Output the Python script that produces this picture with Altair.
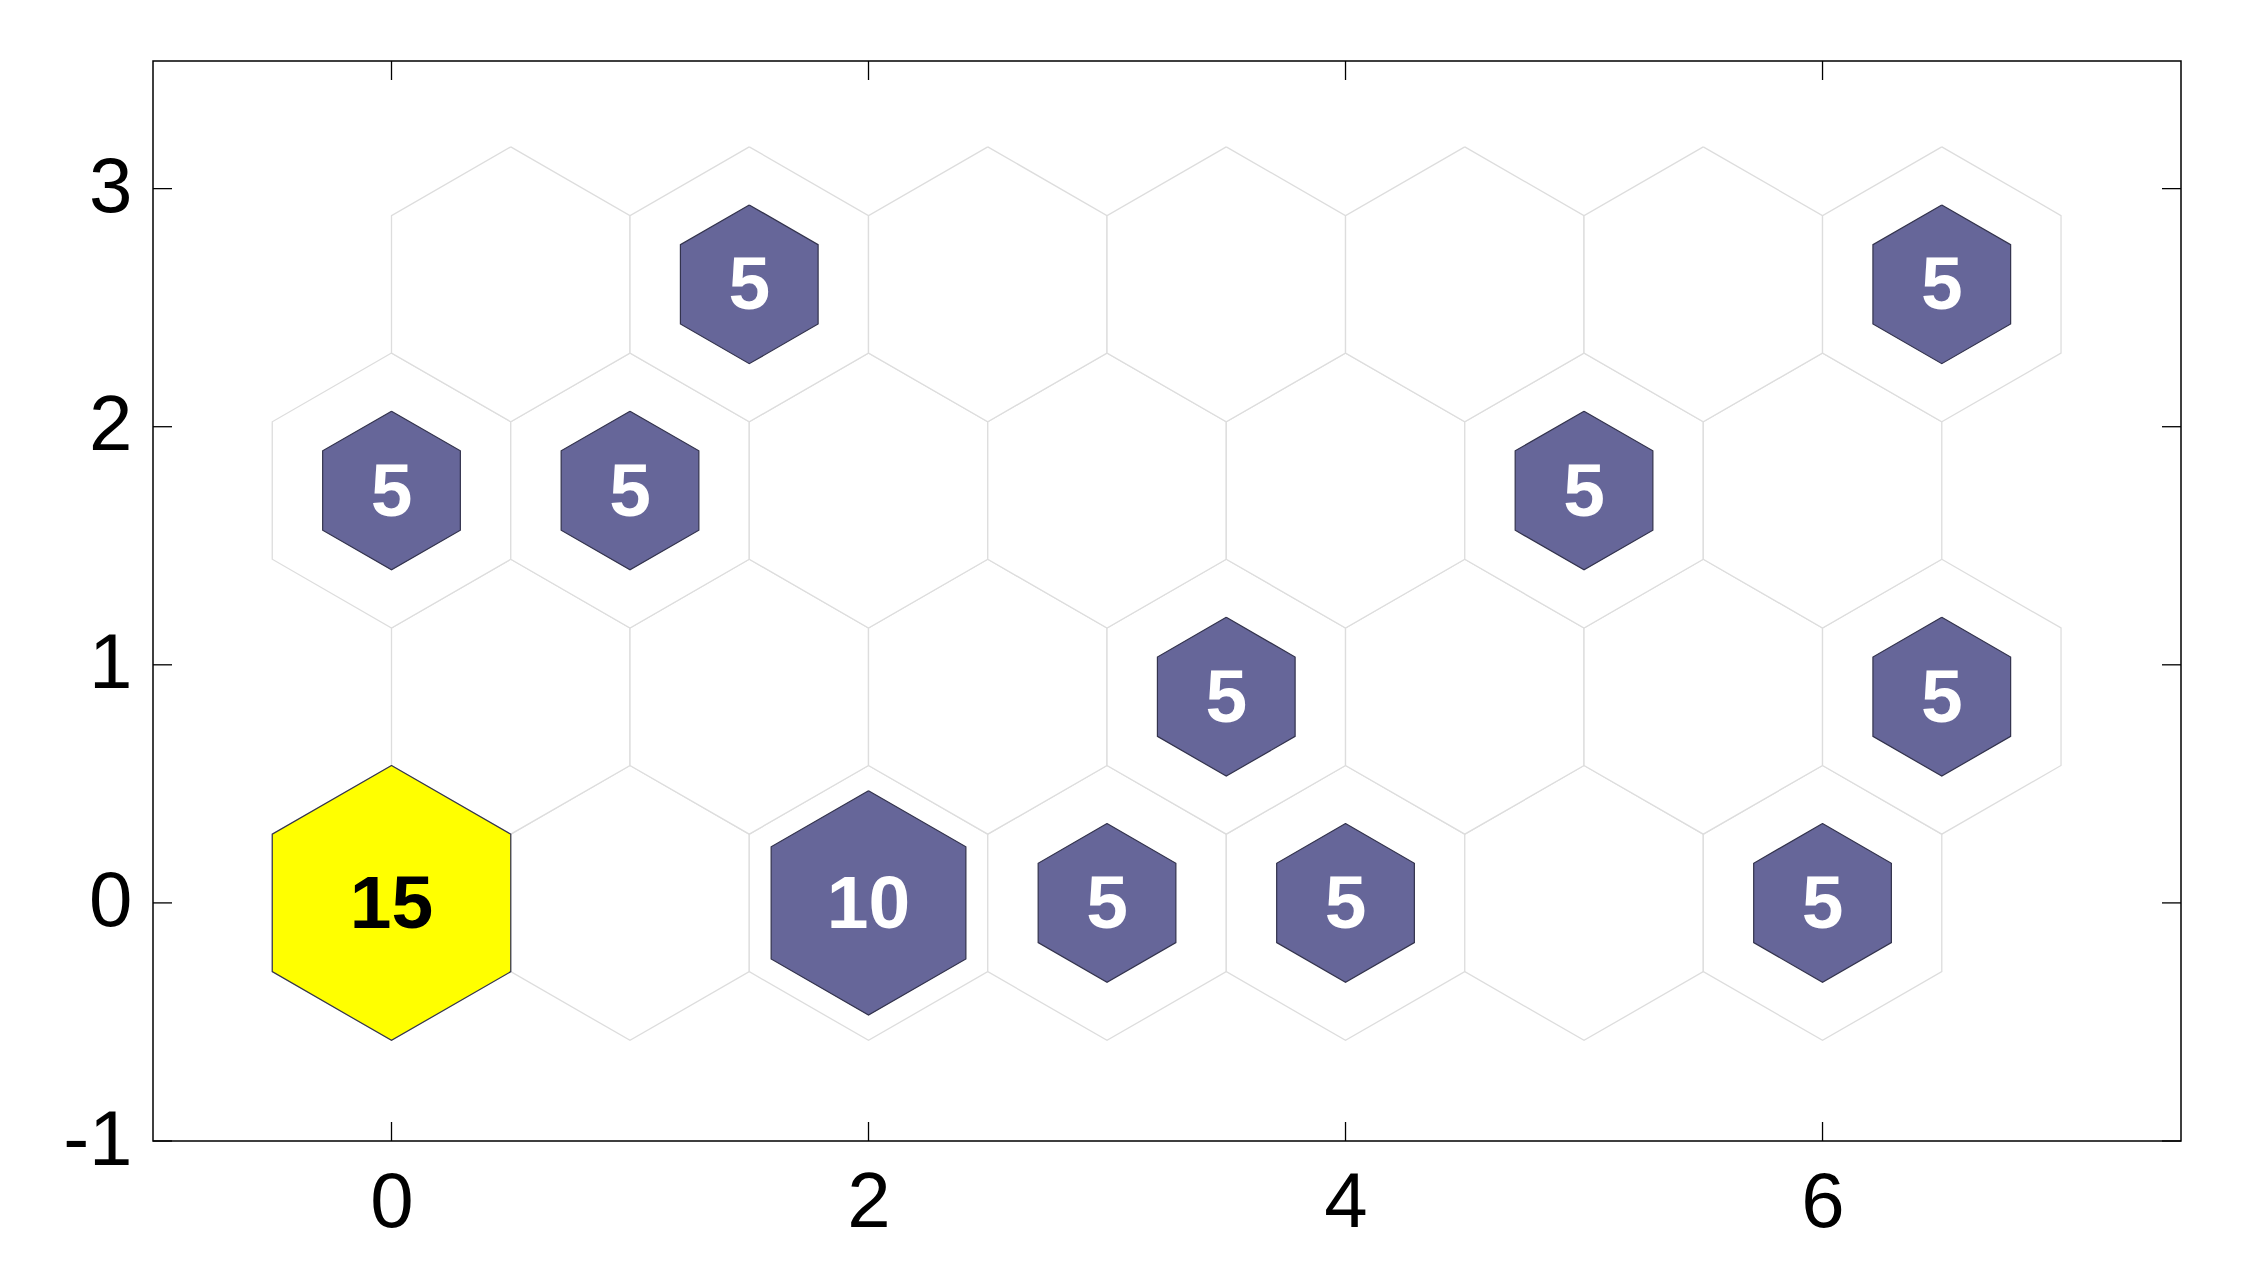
import math
import altair as alt
import pandas as pd

# ---- data (SOM hits, 7x4 hexagonal grid) ----
n_cols = 7
n_rows = 4
hits = [
    15, 0, 10, 5, 5, 0, 5,   # row 0 (y = 0)
    0, 0, 0, 5, 0, 0, 5,     # row 1 (y = 0.866, shifted by 0.5)
    5, 5, 0, 0, 0, 5, 0,     # row 2 (y = 1.732)
    0, 5, 0, 0, 0, 0, 5,     # row 3 (y = 2.598, shifted by 0.5)
]
x_ticks = [0, 2, 4, 6]
y_ticks = [-1, 0, 1, 2, 3]
x_domain = [-1, 7.503]
y_domain = [-1, 3.536]

W, H = 2028, 1080
TICK = 19

# ---- build geometry through data coordinates ----
max_hits = max(hits)
angles = [90, 30, -30, -90, -150, 150, 90]
bg_rows, hit_rows, lab_rows = [], [], []
for i, h in enumerate(hits):
    r, c = divmod(i, n_cols)
    cx = c + 0.5 * (r % 2)
    cy = r * math.sqrt(3) / 2
    R = 1 / math.sqrt(3)
    for k, a in enumerate(angles):
        bg_rows.append(dict(id=i, k=k, x=cx + R * math.cos(math.radians(a)),
                            y=cy + R * math.sin(math.radians(a))))
    if h > 0:
        s = math.sqrt(h / max_hits) * R
        cat = "max" if h == max_hits else "other"
        for k, a in enumerate(angles):
            hit_rows.append(dict(id=i, k=k, cat=cat,
                                 x=cx + s * math.cos(math.radians(a)),
                                 y=cy + s * math.sin(math.radians(a))))
        lab_rows.append(dict(x=cx, y=cy, hits=h, cat=cat))

bg_df = pd.DataFrame(bg_rows)
hit_df = pd.DataFrame(hit_rows)
lab_df = pd.DataFrame(lab_rows)
xt_df = pd.DataFrame({"v": x_ticks})
yt_df = pd.DataFrame({"v": y_ticks})

FONT = "Liberation Sans"
x_axis = alt.Axis(values=x_ticks, ticks=False, tickSize=0, domain=False, grid=False,
                  labelFontSize=78, labelFont=FONT, labelColor="black",
                  labelPadding=23, labelFlush=False, labelOverlap=False,
                  labelExpr="datum.value + ''", title=None)
y_axis = alt.Axis(values=y_ticks, ticks=False, tickSize=0, domain=False, grid=False,
                  labelFontSize=78, labelFont=FONT, labelColor="black",
                  labelPadding=21, labelFlush=False, labelOverlap=False,
                  labelExpr="datum.value + ''", title=None,
                  minExtent=130, maxExtent=130)
xs = alt.Scale(domain=x_domain, nice=False, zero=False)
ys = alt.Scale(domain=y_domain, nice=False, zero=False)


def X(f):
    return alt.X(f, type="quantitative", scale=xs, axis=x_axis)


def Y(f):
    return alt.Y(f, type="quantitative", scale=ys, axis=y_axis)


bg = alt.Chart(bg_df).mark_line(fill="white", stroke="#dddddd", strokeWidth=1.3).encode(
    x=X("x"), y=Y("y"), detail="id:N", order="k:Q")

hit_other = alt.Chart(hit_df).transform_filter("datum.cat == 'other'").mark_line(
    fill="#666699", stroke="#33334d", strokeWidth=1.2).encode(
    x=X("x"), y=Y("y"), detail="id:N", order="k:Q")

hit_max = alt.Chart(hit_df).transform_filter("datum.cat == 'max'").mark_line(
    fill="#ffff00", stroke="#33334d", strokeWidth=1.2).encode(
    x=X("x"), y=Y("y"), detail="id:N", order="k:Q")

labels = alt.Chart(lab_df).mark_text(font=FONT, fontWeight="bold", fontSize=75,
                                     baseline="middle", align="center", dy=2).encode(
    x=X("x"), y=Y("y"), text="hits:Q",
    color=alt.Color("cat:N", scale=alt.Scale(domain=["max", "other"], range=["black", "white"]),
                    legend=None))

tick_style = dict(color="black", strokeWidth=1.3)
bottom_ticks = alt.Chart(xt_df).mark_rule(**tick_style).encode(
    x=X("v"), y=alt.value(H - TICK), y2=alt.value(H))
top_ticks = alt.Chart(xt_df).mark_rule(**tick_style).encode(
    x=X("v"), y=alt.value(0), y2=alt.value(TICK))
left_ticks = alt.Chart(yt_df).mark_rule(**tick_style).encode(
    y=Y("v"), x=alt.value(0), x2=alt.value(TICK))
right_ticks = alt.Chart(yt_df).mark_rule(**tick_style).encode(
    y=Y("v"), x=alt.value(W - TICK), x2=alt.value(W))

chart = alt.layer(bg, hit_other, hit_max, labels,
                  bottom_ticks, top_ticks, left_ticks, right_ticks).properties(
    width=W, height=H,
    padding={"left": 15, "top": 52, "right": 10, "bottom": 10},
    background="white",
).configure_view(stroke="black", strokeWidth=1.5)

chart.save("out.html", embed_options={"renderer": "svg", "actions": False})
